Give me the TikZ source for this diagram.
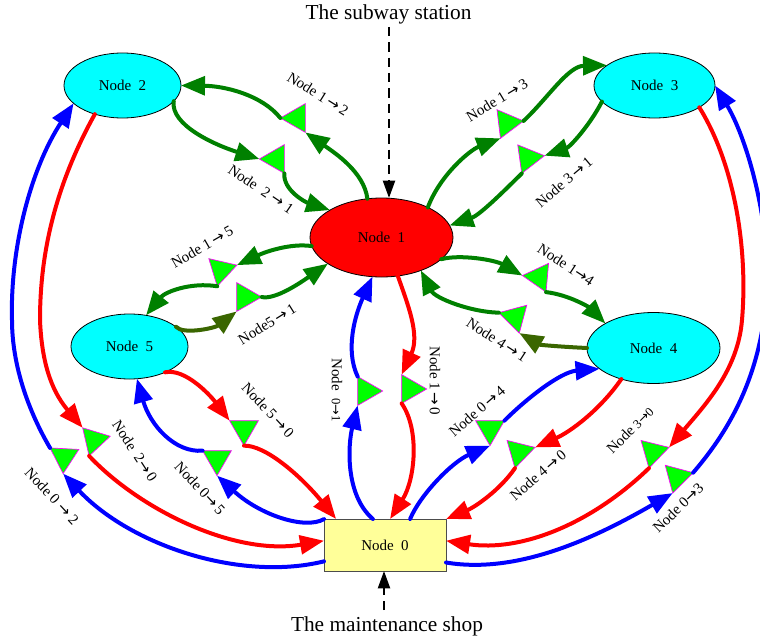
\documentclass[tikz,border=0pt]{standalone}
\usepackage{fontspec}
\setmainfont{Liberation Serif}
\newfontfamily\arrowfont{DejaVu Sans}
\newcommand{\ra}{{\arrowfont →}}
\usetikzlibrary{shapes.geometric,arrows.meta}
\definecolor{dgreen}{RGB}{0,128,0}
\definecolor{olive2}{RGB}{58,102,0}
\definecolor{shopyellow}{RGB}{255,255,153}
\definecolor{purecyan}{RGB}{0,255,255}
\definecolor{puremagenta}{RGB}{255,0,255}
\definecolor{puregreen}{RGB}{0,255,0}
\definecolor{purered}{RGB}{255,0,0}
\definecolor{pureblue}{RGB}{0,0,255}
\tikzset{
  wire/.style={line width=3pt,line cap=round},
  arr/.style={wire,-{Triangle[length=18pt,width=14pt]}},
  cyanell/.style={ellipse,draw=black,fill=purecyan,inner sep=0pt,outer sep=0pt,line width=0.6pt,font=\fontsize{11.25}{13}\selectfont,minimum width=87.75pt,minimum height=48.75pt},
  tri/.style={regular polygon,regular polygon sides=3,draw=puremagenta,fill=puregreen,line width=0.5pt,inner sep=0pt,outer sep=0pt,minimum size=25pt},
  lab/.style={font=\fontsize{11.25}{13}\selectfont,inner sep=0pt},
  big/.style={font=\fontsize{16}{18}\selectfont,inner sep=0pt},
  dash arrow/.style={line width=1.6pt,dash pattern=on 7pt off 4.5pt,-{Triangle[length=13pt,width=9pt]}}
}
\begin{document}
\begin{tikzpicture}[x=0.75pt,y=-0.75pt]
\useasboundingbox (0,0) rectangle (760,642);
% nodes
\node[cyanell] (n2) at (122.5,85.5) {Node\ \ 2};
\node[cyanell,minimum width=90.75pt] (n3) at (654.5,85.5) {Node\ \ 3};
\node[cyanell,fill=purered,minimum width=107.25pt,minimum height=59.25pt] (n1) at (381.5,237.5) {Node\ \ 1};
\node[cyanell] (n5) at (129.5,346.5) {Node\ \ 5};
\node[cyanell,minimum width=99.75pt,minimum height=53.25pt] (n4) at (653.5,348) {Node\ \ 4};
\node[rectangle,draw=black!70,fill=shopyellow,line width=0.7pt,inner sep=0pt,outer sep=0pt,minimum width=91.5pt,minimum height=39pt,font=\fontsize{11.25}{13}\selectfont] (n0) at (385,545) {Node\ \ 0};
% triangles
\node[tri,rotate=90] (t12) at (297,118) {};
\node[tri,rotate=90] (t21) at (276,159) {};
\node[tri,rotate=47] (t15) at (221,270) {};
\node[tri,rotate=-90] (t51) at (245,297) {};
\node[tri,rotate=37] (t13) at (507,123) {};
\node[tri,rotate=38] (t31) at (528,158) {};
\node[tri,rotate=-35] (t14) at (539,277) {};
\node[tri,rotate=-45] (t41) at (515,317) {};
\node[tri,rotate=180] (t50) at (244,429) {};
\node[tri,rotate=180] (t05) at (217,459) {};
\node[tri,rotate=43] (t20) at (94,440) {};
\node[tri,rotate=177] (t02) at (64,457) {};
\node[tri,rotate=-90] (t01) at (366,391) {};
\node[tri,rotate=-90] (t10) at (410,389) {};
\node[tri,rotate=180] (t04) at (490,429) {};
\node[tri,rotate=46] (t40) at (519,452) {};
\node[tri,rotate=46] (t30) at (653,452) {};
\node[tri,rotate=45] (t03) at (677,477) {};
% titles
\node[big] (top) at (388.5,14) {The subway station};
\node[big] (bot) at (387,626) {The maintenance shop};
\coordinate (ts) at (389,27);
\coordinate (bs) at (384,610);
\draw[dash arrow] (ts) -- (ts |- n1.north);
\draw[dash arrow] (bs) -- (bs |- n0.south);
% green connectors
\draw[arr,dgreen] (n1.110.6) .. controls (364,172) and (335,153) .. (t12.corner 2);
\draw[arr,dgreen] (t12.corner 1) .. controls (262,95) and (225,86) .. (n2.0);
\draw[arr,dgreen] (n2.-17) .. controls (170,125) and (215,145) .. (t21.corner 1);
\draw[arr,dgreen] (t21.corner 2) .. controls (283,190) and (305,202) .. (n1.152);
\draw[arr,dgreen] (n1.187) .. controls (290,243) and (265,252) .. (t15.corner 3);
\draw[arr,dgreen] (t15.corner 2) .. controls (190,282) and (165,292) .. (n5.62);
\draw[arr,olive2] (n5.23) .. controls (183,335) and (215,328) .. (t51.corner 3);
\draw[arr,dgreen] (t51.corner 1) .. controls (275,300) and (300,283) .. (n1.206);
\draw[arr,dgreen] (n1.33) .. controls (440,175) and (470,150) .. (t13.corner 2);
\draw[arr,dgreen] (t13.corner 3) .. controls (548,98) and (568,66) .. (n3.157.5);
\draw[arr,dgreen] (n3.197.5) .. controls (590,125) and (570,147) .. (t31.corner 3);
\draw[arr,dgreen] (t31.corner 2) .. controls (505,190) and (480,215) .. (n1.10);
\draw[arr,dgreen] (n1.-20) .. controls (460,254) and (495,260) .. (t14.corner 2);
\draw[arr,dgreen] (t14.corner 3) .. controls (570,295) and (590,308) .. (n4.153);
\draw[arr,olive2] (n4.180) .. controls (565,347) and (540,345) .. (t41.corner 3);
\draw[arr,dgreen] (t41.corner 2) .. controls (470,312) and (435,298) .. (n1.-40);
% red connectors
\draw[arr,purered] (n1.-67) .. controls (408,305) and (420,335) .. (t10.corner 2);
\draw[arr,purered] (t10.corner 3) .. controls (420,430) and (415,480) .. (n0.79);
\draw[arr,purered] (n5.-36) .. controls (185,368) and (210,395) .. (t50.corner 3);
\draw[arr,purered] (t50.corner 1) .. controls (265,445) and (300,475) .. (n0.152);
\draw[arr,purered] (n2.226) .. controls (50,195) and (40,265) .. (40,320) .. controls (42,370) and (55,395) .. (t20.corner 1);
\draw[arr,purered] (t20.corner 2) .. controls (140,510) and (235,556) .. (n0.176);
\draw[arr,purered] (n3.-26) .. controls (735,165) and (748,250) .. (742,320) .. controls (738,370) and (705,405) .. (t30.corner 3);
\draw[arr,purered] (t30.corner 2) .. controls (590,525) and (520,552) .. (n0.4);
\draw[arr,purered] (n4.224) .. controls (600,410) and (570,432) .. (t40.corner 3);
\draw[arr,purered] (t40.corner 2) .. controls (500,490) and (475,507) .. (n0.23);
% blue connectors
\draw[arr,pureblue] (n0.115) .. controls (345,495) and (348,445) .. (t01.corner 3);
\draw[arr,pureblue] (t01.corner 2) .. controls (345,350) and (355,315) .. (n1.257);
\draw[arr,pureblue] (n0.157) .. controls (305,530) and (260,515) .. (t05.corner 1);
\draw[arr,pureblue] (t05.corner 3) .. controls (175,453) and (150,425) .. (n5.-77);
\draw[arr,pureblue] (n0.195.6) .. controls (240,582) and (130,545) .. (t02.corner 1);
\draw[arr,pureblue] (t02.corner 3) .. controls (25,405) and (12,360) .. (12,320) .. controls (10,250) and (30,170) .. (n2.200);
\draw[arr,pureblue] (n0.-16) .. controls (520,575) and (600,535) .. (t03.corner 2);
\draw[arr,pureblue] (t03.corner 3) .. controls (730,430) and (765,370) .. (767,280) .. controls (768,210) and (745,135) .. (n3.0);
\draw[arr,pureblue] (n0.46) .. controls (420,495) and (452,462) .. (t04.corner 1);
\draw[arr,pureblue] (t04.corner 2) .. controls (525,400) and (560,372) .. (n4.201);
% connector labels
\node[lab,rotate=-32] (l12) at (318,94) {Node 1\,\ra\,2};
\node[lab,rotate=-34] (l21) at (261,189) {Node\ \ 2 \ra\ 1};
\node[lab,rotate=30] (l15) at (202,247) {Node 1\,\ra\,5};
\node[lab,rotate=32] (l51) at (267,324) {Node5\,\ra\,1};
\node[lab,rotate=31] (l13) at (497,100) {Node 1\,\ra\,3};
\node[lab,rotate=40] (l31) at (564,182) {Node 3\,\ra\,1};
\node[lab,rotate=-33] (l14) at (566,265) {Node 1\ra 4};
\node[lab,rotate=-33] (l41) at (497,340) {Node 4\,\ra\,1};
\node[lab,rotate=-47] (l50) at (268,410) {Node 5\,\ra\,0};
\node[lab,rotate=-47] (l05) at (200,488) {Node 0\ra\,5};
\node[lab,rotate=-57] (l20) at (135,451) {Node\ \ 2\ra\,0};
\node[lab,rotate=-47] (l02) at (52,496) {Node 0 \ra\ 2};
\node[lab,rotate=-90] (l01) at (337,390) {Node\ \ {\fontsize{9.5}{11}\selectfont 0\ra 1}};
\node[lab,rotate=-90] (l10) at (435,381) {Node 1\,\ra\,0};
\node[lab,rotate=41] (l04) at (477,411) {Node 0\,\ra\,4};
\node[lab,rotate=41] (l40) at (538,475) {Node 4\,\ra\,0};
\node[lab,rotate=45] (l30) at (630,430) {Node {\fontsize{9.5}{11}\selectfont 3\ra 0}};
\node[lab,rotate=44] (l03) at (678,508) {Node 0\ra 3};
\end{tikzpicture}
\end{document}
